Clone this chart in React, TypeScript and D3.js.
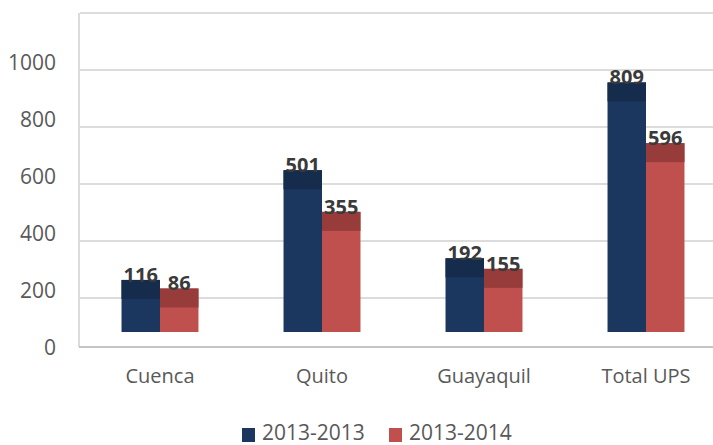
import React from 'react';
import { scaleBand, scaleLinear } from 'd3';

const categories = ['Cuenca', 'Quito', 'Guayaquil', 'Total UPS'];
const series = ['2013-2013', '2013-2014'];
const values2013 = [116, 501, 192, 809];
const values2014 = [86, 355, 155, 596];
const yTicks = [0, 200, 400, 600, 800, 1000];
const gridTicks = [200, 400, 600, 800, 1000, 1200];

const fronts = ['#1b3760', '#c0504d'];
const tops = ['#162c4d', '#973c3a'];
const font = "'Open Sans', 'DejaVu Sans', sans-serif";

export default function App() {
  const width = 713;
  const height = 445;

  const x = scaleBand<string>().domain(categories).range([79, 727]).paddingInner(0.525).paddingOuter(0.2625);
  const xs = scaleBand<number>().domain([0, 1]).range([0, x.bandwidth()]);
  // back wall (gridlines) and front face of bars sit at different depths
  const yAxis = scaleLinear().domain([0, 1000]).range([355, 70]);
  const yBar = scaleLinear().domain([0, 1000]).range([332, 47]);
  const topDepth = 19;
  const data = [values2013, values2014];

  return (
    <svg width={width} height={height} style={{ position: 'absolute', left: 0, top: 0 }}>
      <rect width={width} height={height} fill="#fff" />
      {gridTicks.map((t) => (
        <line key={t} x1={80} x2={width} y1={yAxis(t)} y2={yAxis(t)} stroke="#dcdcdc" strokeWidth={2} />
      ))}
      <line x1={79} x2={79} y1={yAxis(1200)} y2={347} stroke="#dcdcdc" strokeWidth={2} />
      <line x1={79} x2={width} y1={347} y2={347} stroke="#c4c4c4" strokeWidth={2} />
      {yTicks.map((t) => (
        <text key={t} x={56} y={yAxis(t) - 8} dy="0.36em" textAnchor="end" fontFamily={font} fontSize={21} fill="#595959">
          {t}
        </text>
      ))}
      {categories.map((c, i) => (
        <g key={c}>
          {data.map((vals, s) => {
            const bx = (x(c) ?? 0) + (xs(s) ?? 0);
            const top = yBar(vals[i]);
            return (
              <g key={s}>
                <rect x={bx} y={top - topDepth} width={xs.bandwidth()} height={yBar(0) - top + topDepth} fill={fronts[s]} />
                <rect x={bx} y={top - topDepth} width={xs.bandwidth()} height={topDepth} fill={tops[s]} />
                <text x={bx + xs.bandwidth() / 2} y={top - topDepth + 2} textAnchor="middle" fontFamily={font} fontSize={20} fontWeight="bold" fill="#3a3a3a">
                  {vals[i]}
                </text>
              </g>
            );
          })}
          <text x={(x(c) ?? 0) + x.bandwidth() / 2} y={383} textAnchor="middle" fontFamily={font} fontSize={20} fill="#595959">
            {c}
          </text>
        </g>
      ))}
      {series.map((s, i) => {
        const lx = i === 0 ? 242 : 389;
        return (
          <g key={s}>
            <rect x={lx} y={428} width={13} height={14} fill={fronts[i]} />
            <text x={lx + 20} y={440} fontFamily={font} fontSize={21} fill="#595959">
              {s}
            </text>
          </g>
        );
      })}
    </svg>
  );
}
